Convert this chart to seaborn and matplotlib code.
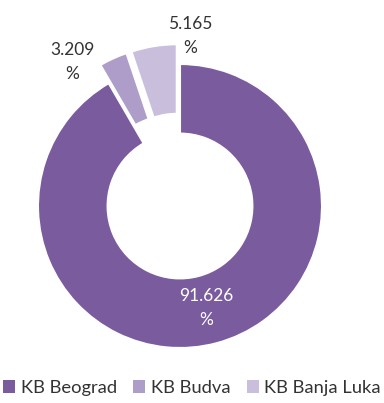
import matplotlib
matplotlib.use("Agg")
import matplotlib.pyplot as plt
import seaborn as sns
from matplotlib.patches import Patch

sns.set_theme(style="white")
plt.rcParams["font.family"] = ["Lato", "DejaVu Sans"]

branches = ["KB Beograd", "KB Budva", "KB Banja Luka"]
shares = [91.626, 3.209, 5.165]
explode_px = [0, 20, 20]
colors = ["#7a5b9e", "#ad9dc8", "#c9bfdd"]

W, H = 384, 403
cx, cy, R = 180, 206, 142  # ring centre and outer radius in pixels

fig = plt.figure(figsize=(W / 100, H / 100), dpi=100)
ax = fig.add_axes([0, 0, 1, 1])

wedges, _ = ax.pie(
    shares,
    colors=colors,
    startangle=90,
    counterclock=False,
    explode=[e / R for e in explode_px],
    radius=1,
    wedgeprops=dict(width=0.49, edgecolor="white", linewidth=1.5),
)

ax.set_xlim(-cx / R, (W - cx) / R)
ax.set_ylim(-(H - cy) / R, cy / R)
ax.set_aspect("equal")
ax.axis("off")


def px(x, y):
    return (x - cx) / R, (cy - y) / R


label_pos = [(206, 308), (72, 62), (190, 36)]
label_col = ["white", "#333333", "#333333"]
for v, (lx, ly), c in zip(shares, label_pos, label_col):
    ax.text(*px(lx, ly), f"{v:.3f}\n%", ha="center", va="center",
            fontsize=12.5, color=c, linespacing=1.6)

handles = [Patch(facecolor=c, edgecolor="none") for c in colors]
fig.legend(handles, branches, loc="center", bbox_to_anchor=(0.5, 1 - 388 / H),
           ncol=3, frameon=False, fontsize=13.2, handlelength=0.65,
           handleheight=0.65, handletextpad=0.3, columnspacing=0.9,
           labelcolor="#333333")

fig.savefig("out.png", dpi=100)
